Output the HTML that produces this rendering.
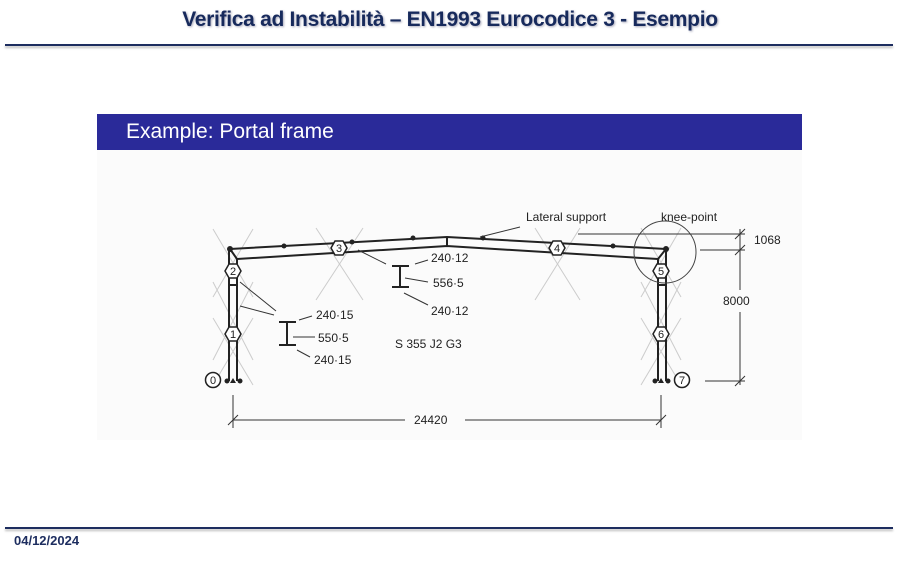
<!DOCTYPE html>
<html><head><meta charset="utf-8"><style>
body{margin:0;width:900px;height:561px;background:#fff;position:relative;overflow:hidden;font-family:"Liberation Sans",sans-serif}
.t{position:absolute;top:8px;left:0;width:900px;text-align:center;font-weight:bold;font-size:21px;color:#172a5c;text-shadow:1px 1px 2px #aab;letter-spacing:-0.3px}
.hl{position:absolute;left:5px;width:888px;height:2px;background:#1d2d5f;box-shadow:0 2px 2px #bbb}
.band{position:absolute;left:97px;top:114px;width:705px;height:36px;background:#2a2a99;color:#fff;font-size:21px;line-height:36px;padding-left:29px;box-sizing:border-box}
.d{position:absolute;left:14px;top:533px;font-size:13px;color:#1d2d5f;font-weight:bold}
</style></head><body>
<div class="t">Verifica ad Instabilità – EN1993 Eurocodice 3 - Esempio</div>
<div class="hl" style="top:44px"></div>
<div class="band">Example: Portal frame</div>
<div style="position:absolute;left:97px;top:150px;width:705px;height:290px;background:#fbfbfb"></div>
<svg style="position:absolute;left:0;top:0" width="900" height="561" font-family="Liberation Sans,sans-serif" font-size="12" fill="#222">
<g stroke="#ccc" stroke-width="1">
<path d="M213 229L253 297M253 229L213 297M213 282L253 360M253 282L213 360M213 318L253 385M253 318L213 385"/>
<path d="M316 228L363 300M363 228L316 300M535 228L580 300M580 228L535 300"/>
<path d="M641 228L681 297M681 228L641 297M641 282L681 360M681 282L641 360M641 318L681 385M681 318L641 385"/>
</g>
<g stroke="#222" stroke-width="2" fill="none">
<path d="M230 249L447 237L666 249M237 259L447 246L658 259M447 237V246"/>
<path d="M229 249V381M237 259V381M230 249L237 259M666 249V381M658 259V381M666 249L658 259"/>
<path d="M229 285H237M658 285H666"/>
</g>
<g fill="#222"><circle cx="230" cy="249" r="3"/><circle cx="284" cy="246" r="2.5"/><circle cx="352" cy="242" r="2.5"/><circle cx="413" cy="238" r="2.5"/><circle cx="483" cy="238" r="2.5"/><circle cx="613" cy="246" r="2.5"/><circle cx="666" cy="249" r="3"/>
<circle cx="227" cy="381" r="2.5"/><circle cx="240" cy="381" r="2.5"/><circle cx="655" cy="381" r="2.5"/><circle cx="668" cy="381" r="2.5"/>
<path d="M233 378l-3 5h6zM661 378l-3 5h6z"/></g>
<g stroke="#222" stroke-width="1.5" fill="#fff">
<path d="M225 271l4-7h8l4 7-4 7h-8z"/><path d="M225 334l4-7h8l4 7-4 7h-8z"/>
<path d="M331 248l4-7h8l4 7-4 7h-8z"/><path d="M549 248l4-7h8l4 7-4 7h-8z"/>
<path d="M653 271l4-7h8l4 7-4 7h-8z"/><path d="M653 334l4-7h8l4 7-4 7h-8z"/>
<circle cx="213" cy="380" r="7.5"/><circle cx="682" cy="380" r="7.5"/>
</g>
<g text-anchor="middle" font-size="11"><text x="233" y="275">2</text><text x="233" y="338">1</text><text x="339" y="252">3</text><text x="557" y="252">4</text><text x="661" y="275">5</text><text x="661" y="338">6</text><text x="213" y="384">0</text><text x="682" y="384">7</text></g>
<circle cx="665" cy="252" r="31" fill="none" stroke="#444" stroke-width="1"/>
<g stroke="#333" stroke-width="1" fill="none">
<path d="M240 282L276 311M240 306L274 315M358 250L386 264M415 264L428 260M405 278L428 282M404 293L428 305"/>
<path d="M299 320L312 316M293 337H315M297 350L310 357M480 237L520 227"/>
<path d="M233 395V428M661 395V428M233 420H405M465 420H661M228 425L238 415M656 425L666 415"/>
<path d="M578 234H745M700 250H745M705 381H745M740 229V290M740 312V385M735 239L745 229M735 255L745 245M735 386L745 376"/>
</g>
<g stroke="#222" stroke-width="2"><path d="M392 266H409M400 266V287M392 287H409M279 322H296M287 322V345M279 345H296"/></g>
<text x="431" y="262">240·12</text><text x="433" y="287">556·5</text><text x="431" y="315">240·12</text>
<text x="316" y="319">240·15</text><text x="318" y="342">550·5</text><text x="314" y="364">240·15</text>
<text x="395" y="348">S 355 J2 G3</text>
<text x="526" y="221">Lateral support</text><text x="661" y="221">knee-point</text>
<text x="754" y="244">1068</text><text x="723" y="305">8000</text><text x="414" y="424">24420</text>
</svg>
<div class="hl" style="top:527px"></div>
<div class="d">04/12/2024</div>
</body></html>
